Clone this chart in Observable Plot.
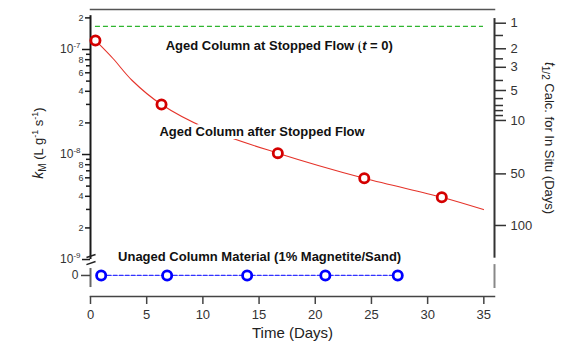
<!DOCTYPE html>
<html><head><meta charset="utf-8">
<script src="https://cdn.jsdelivr.net/npm/d3@7"></script>
<script src="https://cdn.jsdelivr.net/npm/@observablehq/plot@0.6"></script>
<style>
html,body{margin:0;padding:0;background:#fff;}
</style>
</head><body><div id="chart"></div>
<script>
// ---- data ----
const agedDays = [0.44, 6.32, 16.67, 24.36, 31.26];
const agedK = [1.22e-7, 2.99e-8, 1.03e-8, 5.94e-9, 3.92e-9];
const fitDays = [0.44, 2.0, 3.71, 6.32, 10.39, 16.67, 24.36, 31.26, 34.97];
const fitK = [1.22e-7, 8.21e-8, 5.07e-8, 2.99e-8, 1.757e-8, 1.03e-8, 5.94e-9, 3.92e-9, 2.99e-9];
const unagedDays = [0.95, 6.82, 13.94, 20.9, 27.34];
const unagedK = [0, 0, 0, 0, 0];
const stoppedFlowK = 1.66e-7;
const stoppedFlowSpan = [0.44, 34.97];
const xTicks = [0, 5, 10, 15, 20, 25, 30, 35];
const decadeTicks = [1e-9, 1e-8, 1e-7];
const minorMult = [2, 3, 4, 5, 6, 7, 8, 9];
const labelledMult = [2, 4, 6, 8];
const rightLabels = ["1", "2", "3", "5", "10", "50", "100"];
const rightLabelK = [1.78e-7, 1.016e-7, 6.77e-8, 4.07e-8, 2.11e-8, 6.54e-9, 2.11e-9];
const rightMinorK = [1.36e-7, 8.15e-8, 5.07e-8, 3.41e-8, 2.93e-8, 2.62e-8, 2.35e-8];
const annotationText = ["Aged Column at Stopped Flow (t = 0)", "Aged Column after Stopped Flow", "Unaged Column Material (1% Magnetite/Sand)"];
const annotationDay = [16.8, 15.26, 15.05];
const annotationK = [1.09e-7, 1.63e-8, 1.05e-9];

// ---- layout (log axis with a break below 10^-9 where 0 sits) ----
const ZERO_K = 7.05e-10;           // where the value 0 sits below the axis break
const yDomainK = [4.446e-10, 2.404e-7];
const xDomain = [0, 35.95];
const L = k => Math.log10(k > 0 ? k : ZERO_K);
const axisSegments = [
  {day: 0, k1: 1.0e-9, k2: 2.1e-7, c: "#1a1a1a"},
  {day: 0, k1: 5.41e-10, k2: 8.21e-10, c: "#666"},
  {day: 35.95, k1: 1.03e-9, k2: 1.97e-7, c: "#333"},
  {day: 35.95, k1: 5.3e-10, k2: 8.95e-10, c: "#888"}
];
const breakMarks = [
  {d1: -0.36, k1: 1.045e-9, d2: 0.45, k2: 1.117e-9},
  {d1: -0.36, k1: 8.95e-10, d2: 0.45, k2: 9.57e-10}
];

const aged = agedDays.map((d, i) => ({day: d, k: agedK[i]}));
const fit = fitDays.map((d, i) => ({day: d, k: fitK[i]}));
const unaged = unagedDays.map((d, i) => ({day: d, k: unagedK[i]}));
const notes = annotationText.map((t, i) => ({label: t, day: annotationDay[i], k: annotationK[i]}));
const inDomain = k => k >= yDomainK[0] && k <= yDomainK[1];
const labelledMinor = decadeTicks.flatMap(e => labelledMult.map(m => m * e)).filter(inDomain);
const plainMinor = decadeTicks.flatMap(e => minorMult.filter(m => !labelledMult.includes(m)).map(m => m * e)).filter(inDomain);
const rightLabelFor = v => {
  let best = 0;
  rightLabelK.forEach((k, i) => { if (Math.abs(L(k) - v) < Math.abs(L(rightLabelK[best]) - v)) best = i; });
  return rightLabels[best];
};
const mantissa = v => String(Math.round(Math.pow(10, v - Math.floor(v + 1e-9))));

const FONT = "'Liberation Sans', Arial, Helvetica, sans-serif";

const chart = Plot.plot({
  width: 588, height: 345,
  marginLeft: 90, marginRight: 94, marginTop: 9, marginBottom: 49,
  style: {fontFamily: FONT, fontSize: "12px", color: "#333", background: "#fff"},
  x: {domain: xDomain},
  y: {type: "linear", domain: yDomainK.map(L)},
  marks: [
    Plot.frame({anchor: "top", stroke: "#555", strokeWidth: 1.5}),
    Plot.frame({anchor: "bottom", stroke: "#444", strokeWidth: 1.5}),
    Plot.ruleX(axisSegments, {x: "day", y1: d => L(d.k1), y2: d => L(d.k2), stroke: "c", strokeWidth: 2}),
    Plot.link(breakMarks, {x1: "d1", y1: d => L(d.k1), x2: "d2", y2: d => L(d.k2), stroke: "#222", strokeWidth: 1.5}),
    // x axis
    Plot.axisX({ticks: xTicks, tickSize: 8, tickPadding: 5, fontSize: 13, label: null, stroke: "#444", strokeWidth: 1.5, tickFormat: d => String(d)}),
    Plot.text(["Time (Days)"], {text: d => d, frameAnchor: "bottom", textAnchor: "middle", lineAnchor: "middle", dy: 37, fontSize: 15, fill: "#222"}),
    // left axis
    Plot.axisY({anchor: "left", ticks: decadeTicks.map(L), tickSize: 8, tickPadding: 2, fontSize: 12, label: null, stroke: "#1a1a1a", strokeWidth: 1.5, tickFormat: v => "10^" + Math.round(v)}),
    Plot.axisY({anchor: "left", ticks: labelledMinor.map(L), tickSize: 5, tickPadding: 2, fontSize: 9, label: null, stroke: "#1a1a1a", strokeWidth: 1.5, tickFormat: mantissa}),
    Plot.axisY({anchor: "left", ticks: plainMinor.map(L), tickSize: 4, label: null, stroke: "#1a1a1a", strokeWidth: 1.5, tickFormat: () => ""}),
    Plot.axisY({anchor: "left", ticks: [L(0)], tickSize: 9, tickPadding: 3, fontSize: 12, label: null, stroke: "#444", strokeWidth: 1.5, tickFormat: () => "0"}),
    // right axis
    Plot.axisY({anchor: "right", ticks: rightLabelK.map(L), tickSize: 11, tickPadding: 5, fontSize: 13, label: null, stroke: "#333", strokeWidth: 1.5, tickFormat: rightLabelFor}),
    Plot.axisY({anchor: "right", ticks: rightMinorK.map(L), tickSize: 8, label: null, stroke: "#333", strokeWidth: 1.5, tickFormat: () => ""}),
    // axis titles (rich text filled below)
    Plot.text(["@YL"], {text: d => d, frameAnchor: "left", textAnchor: "middle", lineAnchor: "middle", dx: -52, dy: -10, rotate: -90, fontSize: 13, fill: "#222"}),
    Plot.text(["@YR"], {text: d => d, frameAnchor: "right", textAnchor: "middle", lineAnchor: "middle", dx: 55, dy: -15, rotate: 90, fontSize: 13, fill: "#222"}),
    // data
    Plot.ruleY([stoppedFlowK], {y: L, x1: stoppedFlowSpan[0], x2: stoppedFlowSpan[1], stroke: "#2fb52f", strokeWidth: 1.2, strokeDasharray: "5,3"}),
    Plot.line(fit, {x: "day", y: d => L(d.k), curve: "catmull-rom", stroke: "#e5332a", strokeWidth: 1.1}),
    Plot.line(unaged, {x: "day", y: d => L(d.k), stroke: "#3333ff", strokeWidth: 1.2, strokeDasharray: "4,2"}),
    Plot.dot(aged, {x: "day", y: d => L(d.k), r: 4.6, stroke: "#d40000", strokeWidth: 2.8, fill: "white"}),
    Plot.dot(unaged, {x: "day", y: d => L(d.k), r: 4.6, stroke: "#0000ff", strokeWidth: 2.8, fill: "white"}),
    Plot.text(notes, {x: "day", y: d => L(d.k), text: "label", fontSize: 13, fontWeight: "bold", fill: "#111", stroke: "white", strokeWidth: 6, strokeLinejoin: "round"})
  ]
});
document.getElementById("chart").append(chart);

// ---- rich text (italics, sub/superscripts) ----
function rich(el, parts) {
  const sel = d3.select(el);
  sel.text(null);
  let shift = 0;
  for (const p of parts) {
    const target = p.dy || 0;
    const ts = sel.append("tspan").text(p.t);
    if (p.i) ts.attr("font-style", "italic");
    if (p.fs) ts.attr("font-size", p.fs);
    if (target !== shift) { ts.attr("dy", target - shift); shift = target; }
  }
}
d3.select(chart).selectAll("text").each(function () {
  const s = this.textContent;
  let m;
  if ((m = s.match(/^10\^(-?\d+)$/))) {
    rich(this, [{t: "10"}, {t: m[1], fs: 8, dy: -5}]);
  } else if (s === "@YL") {
    rich(this, [{t: "k", i: true, fs: 14}, {t: "M", fs: 10, dy: 3}, {t: " (L g"}, {t: "-1", fs: 9, dy: -5}, {t: " s"}, {t: "-1", fs: 9, dy: -5}, {t: ")"}]);
  } else if (s === "@YR") {
    rich(this, [{t: "t", i: true, fs: 14}, {t: "1/2", fs: 10, dy: 3}, {t: " Calc. for In Situ (Days)"}]);
  } else if (s === "Aged Column at Stopped Flow (t = 0)") {
    rich(this, [{t: "Aged Column at Stopped Flow ("}, {t: "t", i: true}, {t: " = 0)"}]);
  }
});
</script>
</body></html>
